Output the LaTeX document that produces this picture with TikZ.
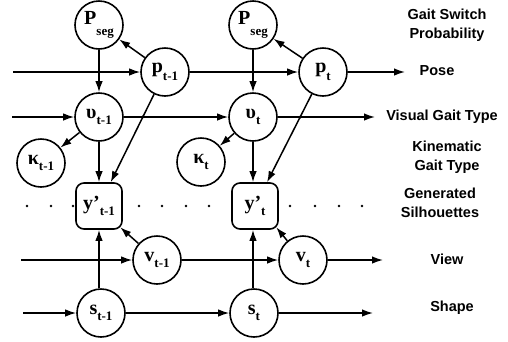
\documentclass[tikz,border=0pt]{standalone}
\usepackage{fontspec}
\setmainfont{Liberation Serif}
\newfontfamily\lblsans{Liberation Sans}
\usetikzlibrary{arrows.meta}
\newcommand{\nl}[3][0.3em]{\fontsize{20}{20}\selectfont\bfseries #2\raisebox{-#1}{\fontsize{13}{13}\selectfont\bfseries #3}}
\tikzset{
  var/.style={circle,draw,line width=1.6pt,minimum size=48pt,inner sep=0pt},
  obs/.style={rectangle,rounded corners=8pt,draw,line width=1.6pt,minimum size=46pt,inner sep=0pt},
  edge/.style={line width=1.5pt,-{Latex[length=11pt,width=7.5pt]}},
  rowlabel/.style={font=\lblsans\bfseries\fontsize{14.5}{19}\selectfont,align=center},
  xdot/.style={circle,fill,inner sep=0pt,minimum size=3.2pt},
  dotrow/.style={circle,fill,inner sep=0pt,minimum size=2.6pt}
}
\begin{document}
\begin{tikzpicture}[x=1pt,y=-1pt]
\useasboundingbox (0,0) rectangle (508,341);
% nodes
\node[var] (ps1) at (99,25) {\nl[0.55em]{P}{seg}};
\node[var] (ps2) at (253,25) {\nl[0.55em]{P}{seg}};
\node[var] (p1) at (165,72) {\nl[0.4em]{p}{t-1}};
\node[var] (p2) at (323,72) {\nl[0.4em]{p}{t}};
\node[var] (u1) at (99,117) {\nl{υ}{t-1}};
\node[var] (u2) at (253,117) {\nl{υ}{t}};
\node[var] (k1) at (41,163) {\nl{κ}{t-1}};
\node[var] (k2) at (201,162) {\nl{κ}{t}};
\node[obs] (y1) at (99,206) {\nl{y’}{t-1}};
\node[obs] (y2) at (255,206) {\nl{y’}{t}};
\node[var] (v1) at (157,260) {\nl{v}{t-1}};
\node[var] (v2) at (303,260) {\nl{v}{t}};
\node[var] (s1) at (101,313) {\nl{s}{t-1}};
\node[var] (s2) at (254,313) {\nl{s}{t}};
% free ends
\coordinate (pl) at (13,72);
\coordinate (ul) at (12,117);
\coordinate (vl) at (21,260);
\coordinate (sl) at (23,313);
\coordinate (pr) at (405,72);
\coordinate (ur) at (375,117);
\coordinate (vr) at (383,260);
\coordinate (sr) at (373,313);
% labels
\node[rowlabel] (lg) at (447,25) {Gait Switch\\Probability};
\node[rowlabel] (lp) at (437,71) {Pose};
\node[rowlabel] (lu) at (442,117) {Visual Gait Type};
\node[rowlabel] (lk) at (447,157) {Kinematic\\Gait Type};
\node[rowlabel] (ly) at (440,203) {Generated\\Silhouettes};
\node[rowlabel] (lv) at (447,259) {View};
\node[rowlabel] (ls) at (452,308) {Shape};
% edges
\draw[edge] (pl) -- (p1);
\draw[edge] (p1) -- (p2);
\draw[edge] (p2) -- (pr);
\draw[edge] (p1) -- (ps1);
\draw[edge] (p2) -- (ps2);
\draw[edge] (ps1) -- (u1);
\draw[edge] (ps2) -- (u2);
\draw[edge] (ul) -- (u1);
\draw[edge] (u1) -- (u2);
\draw[edge] (u2) -- (ur);
\draw[edge] (u1) -- (k1);
\draw[edge] (u2) -- (k2);
\draw[edge] (u1) -- (y1.north -| u1);
\draw[edge] (u2) -- (y2.north -| u2);
\draw[edge] (p1) -- (y1);
\draw[edge] (p2) -- (y2);
\draw[edge] (vl) -- (v1);
\draw[edge] (v1) -- (v2);
\draw[edge] (v2) -- (vr);
\draw[edge] (v1) -- ([shift={(-2.5,-2.5)}]y1.south east);
\draw[edge] (v2) -- ([shift={(-2.5,-2.5)}]y2.south east);
\draw[edge] (sl) -- (s1);
\draw[edge] (s1) -- (s2);
\draw[edge] (s2) -- (sr);
\draw[edge] (s1.north -| u1) -- (y1.south -| u1);
\draw[edge] (s2.north -| u2) -- (y2.south -| u2);
% crossing marks
\node[xdot] (c1) at (99,72) {};
\node[xdot] (c2) at (253,72) {};
\node[xdot] (c3) at (142.8,117) {};
\node[xdot] (c4) at (300.2,117) {};
\node[xdot] (c5) at (99,260) {};
\node[xdot] (c6) at (253,260) {};
% dotted row
\foreach \x [count=\i] in {27,51,73,139,162,186,209,290,315,339,362}
  \node[dotrow] (d\i) at (\x,206) {};
\end{tikzpicture}
\end{document}
